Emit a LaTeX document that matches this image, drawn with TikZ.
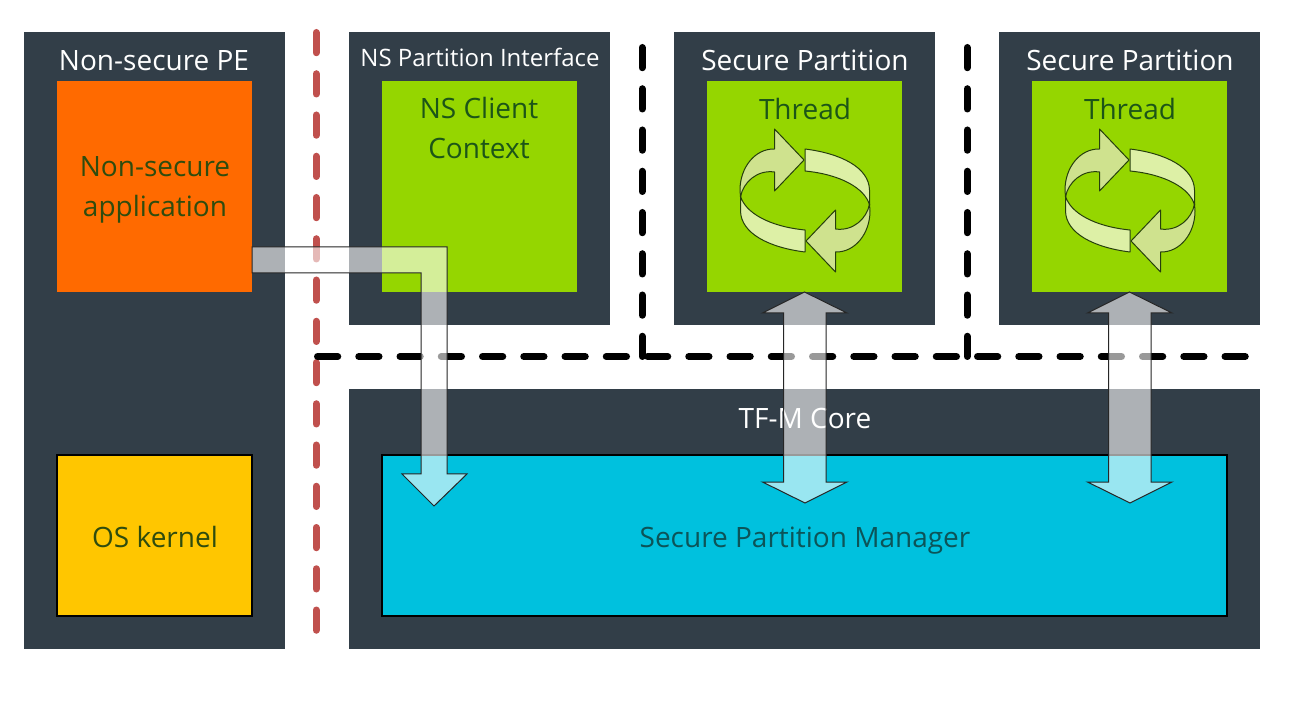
\documentclass[tikz,border=0pt]{standalone}
\usepackage{fontspec}
\setmainfont{Open Sans}
\usetikzlibrary{math}

\definecolor{slate}{HTML}{323E48}
\definecolor{limegreen}{HTML}{95D600}
\definecolor{appgreen}{HTML}{1C5518}
\definecolor{appolive}{HTML}{2F4C0E}
\definecolor{appteal}{HTML}{0C5458}
\definecolor{apporange}{HTML}{FF6A00}
\definecolor{kernelyellow}{HTML}{FFC600}
\definecolor{spmblue}{HTML}{00C1DE}
\definecolor{secred}{HTML}{C0504D}
\definecolor{cycledark}{HTML}{CFE28E}
\definecolor{cyclelight}{HTML}{DDF0A6}
\definecolor{cycleline}{HTML}{263F0C}

\tikzset{
	outerbox/.style={fill=slate, anchor=north west, inner sep=0pt, outer sep=0pt},
	innerbox/.style={fill=limegreen, anchor=north west, inner sep=0pt, outer sep=0pt, minimum width=195pt},
	titletext/.style={anchor=base, yshift=-1pt, text=white, font=\fontsize{28}{32}\selectfont},
	boxtext/.style={anchor=base, yshift=-1pt, text=appgreen, font=\fontsize{28}{32}\selectfont},
	blockarrow/.style={draw=black!85, line width=1pt, fill=white, fill opacity=0.6, line join=miter},
	boundary/.style={line width=7pt, line cap=round, dash pattern=on 20.25pt off 21pt},
	cycleband/.style={draw=cycleline, line width=1pt, line join=round},
}

\begin{document}
\begin{tikzpicture}[x=1pt, y=-1pt]
	% Constants
	\tikzmath{\boxwidth = 261; \boxheight = 293; \greenheight = 211; \mainheight = 161;}

	\useasboundingbox (0,0) rectangle (1299,708);

	% Non-secure side
	\node[outerbox, minimum width=\boxwidth, minimum height=617] (nspe) at (24,32) {};
	\node[titletext] (nspetitle) at (154,70) {Non-secure PE};
	\node[innerbox, fill=apporange, minimum height=\greenheight] (nsapp) at (57,81) {};
	\node[boxtext, text=appolive] (nsappa) at (155,176) {Non-secure};
	\node[boxtext, text=appolive] (nsappb) at (155,216) {application};
	\node[innerbox, fill=kernelyellow, draw=black, line width=1.5pt, minimum height=\mainheight] (oskernel) at (57,455) {};
	\node[boxtext, text=appolive] (oskerneltext) at (155,546) {OS kernel};

	% NS interface
	\node[outerbox, minimum width=\boxwidth, minimum height=\boxheight] (nsif) at (349,32) {};
	\node[titletext, font=\fontsize{24}{28}\selectfont] (nsiftitle) at (480,66) {NS Partition Interface};
	\node[innerbox, minimum height=\greenheight] (nsclient) at (382,81) {};
	\node[boxtext] (nsclienta) at (479,118) {NS Client};
	\node[boxtext] (nsclientb) at (479,158) {Context};

	% Secure partitions
	\foreach \spname/\spx in {spa/805, spb/1130} {
		\node[outerbox, minimum width=\boxwidth, minimum height=\boxheight] (\spname) at (\spx-131,32) {};
		\node[titletext] (\spname title) at (\spx,70) {Secure Partition};
		\node[innerbox, minimum height=\greenheight] (\spname thread) at (\spx-98,81) {};
		\node[boxtext] (\spname text) at (\spx,119) {Thread};

		% Thread cycle, one half and the same half turned round
		\foreach \cycleangle in {0,180} {
			\begin{scope}[shift={(\spx,200.5)}, rotate=\cycleangle]
				\draw[cycleband, fill=cyclelight] (0,-51.5) .. controls (36,-47) and (64,-33) .. (64.5,-10.5) -- (64.5,4.5)
				.. controls (60,-12) and (36,-26) .. (0,-29.5) -- cycle;
				\draw[cycleband, fill=cycledark] (-30.5,-71.5) -- (-1,-40.5) -- (-30.5,-9.5) -- (-30.5,-28.5)
				.. controls (-48,-31) and (-62,-18) .. (-64.5,-3.5) -- (-65,-10.5)
				.. controls (-65,-33) and (-50,-52) .. (-30.5,-51.5) -- cycle;
			\end{scope}
		}
	}

	% TF-M core
	\node[outerbox, minimum width=911, minimum height=260] (core) at (349,389) {};
	\node[titletext] (coretitle) at (805,428) {TF-M Core};
	\node[innerbox, fill=spmblue, draw=black, line width=1.5pt, minimum width=845, minimum height=\mainheight] (spm) at (382,455) {};
	\node[boxtext, text=appteal] (spmtext) at (805,546) {Secure Partition Manager};

	% Boundaries
	\draw[boundary, secred] (316,32.5) -- (316,640);
	\draw[boundary, black] (317.5,356.5) -- (1256,356.5);
	\draw[boundary, black] (642,47.5) -- (642,356.5);
	\draw[boundary, black] (967,47.5) -- (967,356.5);

	% Arrows
	\coordinate (nsstart) at (252,260);
	\coordinate (nstip) at (434,506);
	\draw[blockarrow] (nsstart) -- ++(0,-13) -- ++(195,0) -- ++(0,227) -- ++(20,0) -- (nstip)
	-- ++(-32,-32) -- ++(19,0) -- ++(0,-201) -- ++(-169,0) -- cycle;

	\foreach \spname/\spx in {spa/805, spb/1130} {
		\coordinate (\spname tip) at (\spx,503);
		\draw[blockarrow] (\spname thread.south) -- ++(42.5,21) -- ++(-21,0) -- ++(0,169) -- ++(21,0) -- (\spname tip)
		-- ++(-42.5,-21) -- ++(21,0) -- ++(0,-169) -- ++(-21,0) -- cycle;
	}
\end{tikzpicture}
\end{document}
